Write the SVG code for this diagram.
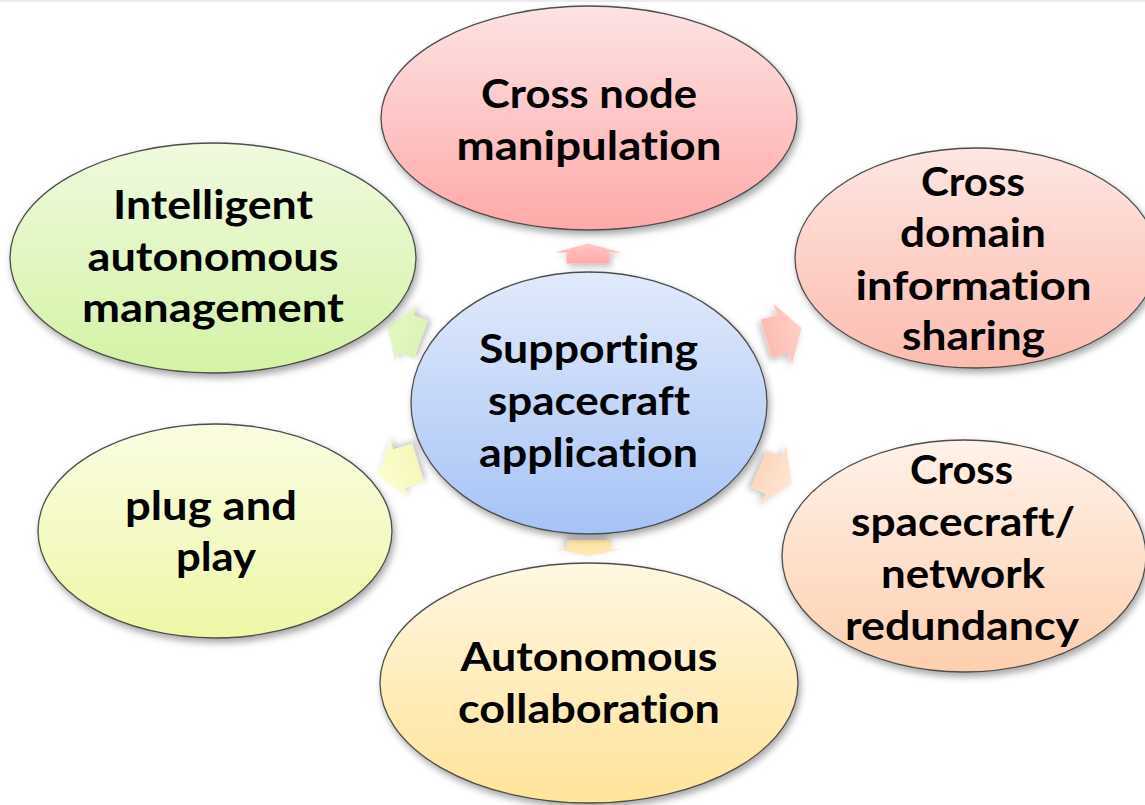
<svg xmlns="http://www.w3.org/2000/svg" width="1145" height="805" viewBox="0 0 1145 805">
<defs>
<style>
.node{stroke:#4d4d4d;stroke-width:1.3;filter:url(#sh)}
.lbl{font-family:Lato,"Liberation Sans",sans-serif;font-weight:bold;font-size:41px;fill:#000;text-anchor:middle;font-variant-ligatures:none}
.arr{stroke:none;filter:url(#ash)}
</style>
<filter id="sh" x="-10%" y="-10%" width="125%" height="130%">
<feDropShadow dx="2" dy="4" stdDeviation="3.5" flood-color="#000" flood-opacity="0.35"/>
</filter>
<filter id="ash" x="-30%" y="-30%" width="170%" height="170%">
<feDropShadow dx="2" dy="3" stdDeviation="3" flood-color="#000" flood-opacity="0.25"/>
</filter>
<linearGradient id="gTop" x1="0" y1="0" x2="0" y2="1"><stop offset="0" stop-color="#fde3e3"/><stop offset="1" stop-color="#ffa9a9"/></linearGradient>
<linearGradient id="gGreen" x1="0" y1="0" x2="0" y2="1"><stop offset="0" stop-color="#f0fadf"/><stop offset="1" stop-color="#d3f3a4"/></linearGradient>
<linearGradient id="gCenter" x1="0" y1="0" x2="0" y2="1"><stop offset="0" stop-color="#e1eafb"/><stop offset="1" stop-color="#a6c3f6"/></linearGradient>
<linearGradient id="gYellow" x1="0" y1="0" x2="0" y2="1"><stop offset="0" stop-color="#fbfde3"/><stop offset="1" stop-color="#eef7a6"/></linearGradient>
<linearGradient id="gBottom" x1="0" y1="0" x2="0" y2="1"><stop offset="0" stop-color="#fff7e2"/><stop offset="1" stop-color="#ffe398"/></linearGradient>
<linearGradient id="gRT" x1="0" y1="0" x2="0" y2="1"><stop offset="0" stop-color="#fde6e2"/><stop offset="1" stop-color="#fcbcae"/></linearGradient>
<linearGradient id="gRB" x1="0" y1="0" x2="0" y2="1"><stop offset="0" stop-color="#fff2e9"/><stop offset="1" stop-color="#fdcfae"/></linearGradient>
<linearGradient id="aTop" x1="0" y1="0" x2="0" y2="1"><stop offset="0" stop-color="#ffc8c8"/><stop offset="1" stop-color="#ffaaaa"/></linearGradient>
<linearGradient id="aBottom" x1="0" y1="0" x2="0" y2="1"><stop offset="0" stop-color="#ffe9b8"/><stop offset="1" stop-color="#ffe3a4"/></linearGradient>
<linearGradient id="aRT" x1="0" y1="0" x2="0" y2="1"><stop offset="0" stop-color="#ffd0c8"/><stop offset="1" stop-color="#fcbcb0"/></linearGradient>
<linearGradient id="aRB" x1="0" y1="0" x2="0" y2="1"><stop offset="0" stop-color="#ffe6d4"/><stop offset="1" stop-color="#fdd6bc"/></linearGradient>
<linearGradient id="aLB" x1="0" y1="0" x2="0" y2="1"><stop offset="0" stop-color="#fcfdd0"/><stop offset="1" stop-color="#f5f8b8"/></linearGradient>
<linearGradient id="aLT" x1="0" y1="0" x2="0" y2="1"><stop offset="0" stop-color="#e6f8c8"/><stop offset="1" stop-color="#dbf4b4"/></linearGradient>
</defs>
<rect x="0" y="0" width="1145" height="805" fill="#ffffff"/>
<rect x="0" y="0" width="1145" height="2" fill="#ececec"/>

<g id="connectors">
<path class="arr" fill="url(#aTop)" transform="translate(588,253.5)" d="M-21.5,10 L-21.5,-1 L-33,-1 L0,-10 L33,-1 L21.5,-1 L21.5,10 Z"/>
<path class="arr" fill="url(#aBottom)" transform="translate(589,548) rotate(180)" d="M-22,8 L-22,-1 L-33,-1 L0,-8 L33,-1 L22,-1 L22,8 Z"/>
<path class="arr" fill="url(#aRT)" transform="translate(784,333.5) rotate(73)" d="M-20,18.5 L-20,1.5 L-32,1.5 L0,-18.5 L32,1.5 L20,1.5 L20,18.5 Z"/>
<path class="arr" fill="url(#aRB)" transform="translate(775.5,476) rotate(113)" d="M-20,18 L-20,2 L-32,2 L0,-18 L32,2 L20,2 L20,18 Z"/>
<path class="arr" fill="url(#aLB)" transform="translate(398,469) rotate(253)" d="M-20,21 L-20,1 L-30,1 L0,-21 L30,1 L20,1 L20,21 Z"/>
<path class="arr" fill="url(#aLT)" transform="translate(404,333) rotate(-69)" d="M-20,18 L-20,2 L-30,2 L0,-18 L30,2 L20,2 L20,18 Z"/>
</g>

<g id="node-top">
<ellipse class="node" cx="589" cy="118" rx="208" ry="112" fill="url(#gTop)"/>
<text class="lbl" x="589" y="108" textLength="216" lengthAdjust="spacingAndGlyphs">Cross node</text>
<text class="lbl" x="589" y="160" textLength="265" lengthAdjust="spacingAndGlyphs">manipulation</text>
</g>

<g id="node-intelligent">
<ellipse class="node" cx="213" cy="258" rx="203" ry="115" fill="url(#gGreen)"/>
<text class="lbl" x="213" y="219" textLength="200" lengthAdjust="spacingAndGlyphs">Intelligent</text>
<text class="lbl" x="213" y="271" textLength="251" lengthAdjust="spacingAndGlyphs">autonomous</text>
<text class="lbl" x="213" y="322" textLength="262" lengthAdjust="spacingAndGlyphs">management</text>
</g>

<g id="node-plug">
<ellipse class="node" cx="215" cy="531" rx="177" ry="107" fill="url(#gYellow)"/>
<text class="lbl" x="211" y="520" textLength="172" lengthAdjust="spacingAndGlyphs">plug and</text>
<text class="lbl" x="216" y="571" textLength="80" lengthAdjust="spacingAndGlyphs">play</text>
</g>

<g id="node-collab">
<ellipse class="node" cx="589" cy="683" rx="209" ry="120" fill="url(#gBottom)"/>
<text class="lbl" x="589" y="671" textLength="257" lengthAdjust="spacingAndGlyphs">Autonomous</text>
<text class="lbl" x="589" y="723" textLength="262" lengthAdjust="spacingAndGlyphs">collaboration</text>
</g>

<g id="node-domain">
<ellipse class="node" cx="976" cy="258" rx="181" ry="110" fill="url(#gRT)"/>
<text class="lbl" x="973" y="196" textLength="104" lengthAdjust="spacingAndGlyphs">Cross</text>
<text class="lbl" x="973" y="247" textLength="146" lengthAdjust="spacingAndGlyphs">domain</text>
<text class="lbl" x="973.5" y="300" textLength="236" lengthAdjust="spacingAndGlyphs">information</text>
<text class="lbl" x="973.5" y="350" textLength="143" lengthAdjust="spacingAndGlyphs">sharing</text>
</g>

<g id="node-redundancy">
<ellipse class="node" cx="964" cy="556" rx="182" ry="116" fill="url(#gRB)"/>
<text class="lbl" x="961.5" y="484" textLength="103" lengthAdjust="spacingAndGlyphs">Cross</text>
<text class="lbl" x="963" y="536" textLength="224" lengthAdjust="spacingAndGlyphs">spacecraft/</text>
<text class="lbl" x="963" y="588" textLength="164" lengthAdjust="spacingAndGlyphs">network</text>
<text class="lbl" x="962" y="640" textLength="234" lengthAdjust="spacingAndGlyphs">redundancy</text>
</g>

<g id="node-center">
<ellipse class="node" cx="589" cy="403" rx="178" ry="131" fill="url(#gCenter)"/>
<text class="lbl" x="588.5" y="363" textLength="219" lengthAdjust="spacingAndGlyphs">Supporting</text>
<text class="lbl" x="589" y="415" textLength="202" lengthAdjust="spacingAndGlyphs">spacecraft</text>
<text class="lbl" x="588.5" y="467" textLength="219" lengthAdjust="spacingAndGlyphs">application</text>
</g>
</svg>
